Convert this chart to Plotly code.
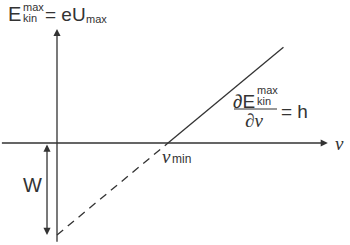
import plotly.graph_objects as go

# --- data (schematic units: W = 1, nu_min = 1) ---
nu_vals = [0.0, 1.0, 2.04]        # frequency: axis, nu_min, end of drawn line
E_vals = [-1.0, 0.0, 1.04]        # E_kin^max at those frequencies
W_work = 1.0
x_axis_ext = [-0.51, 2.44]
y_axis_ext = [-1.09, 1.24]

W, H = 350, 245
xr = [-0.5135, 2.6396]
yr = [-1.1087, 1.5543]
C = "#333333"
SANS = "Liberation Sans, Arial, sans-serif"
SERIF = "Liberation Serif, Times New Roman, serif"

fig = go.Figure()
# dashed extrapolation
fig.add_trace(go.Scatter(x=nu_vals[0:2], y=E_vals[0:2], mode="lines",
                         line=dict(color=C, width=1.3, dash="8px,6px"),
                         hoverinfo="skip", showlegend=False))
# solid line
fig.add_trace(go.Scatter(x=nu_vals[1:3], y=E_vals[1:3], mode="lines",
                         line=dict(color=C, width=1.3),
                         hoverinfo="skip", showlegend=False))

ann = []
# x axis arrow
ann.append(dict(x=x_axis_ext[1], y=0, ax=x_axis_ext[0], ay=0, xref="x", yref="y",
                axref="x", ayref="y", showarrow=True, arrowhead=2, arrowsize=1.1,
                arrowwidth=1.3, arrowcolor=C, text=""))
# y axis arrow
ann.append(dict(x=0, y=y_axis_ext[1], ax=0, ay=y_axis_ext[0], xref="x", yref="y",
                axref="x", ayref="y", showarrow=True, arrowhead=2, arrowsize=1.1,
                arrowwidth=1.3, arrowcolor=C, text=""))
# W double arrow
wx = -0.09
ann.append(dict(x=wx, y=-W_work, ax=wx, ay=0, xref="x", yref="y",
                axref="x", ayref="y", showarrow=True, arrowhead=2, startarrowhead=2,
                arrowside="end+start", arrowsize=1.1, startarrowsize=1.1,
                arrowwidth=1.3, arrowcolor=C, text=""))


def txt(px, py, s, size, family=SANS, xanchor="left"):
    ann.append(dict(x=px / W, y=1 - py / H, xref="paper", yref="paper", text=s,
                    showarrow=False, xanchor=xanchor, yanchor="middle", borderpad=0,
                    font=dict(family=family, size=size, color=C)))


# top-left label
txt(22, 14, "E", 20, xanchor="right")
txt(22, 7, "max", 11)
txt(22, 18, "kin", 11)
txt(44, 14, "= eU", 19)
txt(85, 19, "max", 11)

# W label
txt(22, 185, "W", 20)

# nu labels
txt(334, 143, "<i>ν</i>", 19, SERIF)
txt(161, 156, "<i>ν</i>", 19, SERIF)
txt(171, 159, "min", 12)

# derivative fraction
txt(256, 101, "∂E", 19, xanchor="right")
txt(256, 90, "max", 11)
txt(256, 101, "kin", 11)
txt(244, 121, "∂<i>ν</i>", 19, SERIF)
txt(280, 111, "= h", 19)

fig.update_layout(
    width=W, height=H, margin=dict(l=0, r=0, t=0, b=0),
    paper_bgcolor="white", plot_bgcolor="white",
    xaxis=dict(range=xr, visible=False, fixedrange=True),
    yaxis=dict(range=yr, visible=False, fixedrange=True),
    annotations=ann,
    shapes=[dict(type="line", xref="paper", yref="paper",
                 x0=234 / W, x1=277 / W, y0=1 - 109 / H, y1=1 - 109 / H,
                 line=dict(color=C, width=1.2))],
)
fig.write_html("out.html")
